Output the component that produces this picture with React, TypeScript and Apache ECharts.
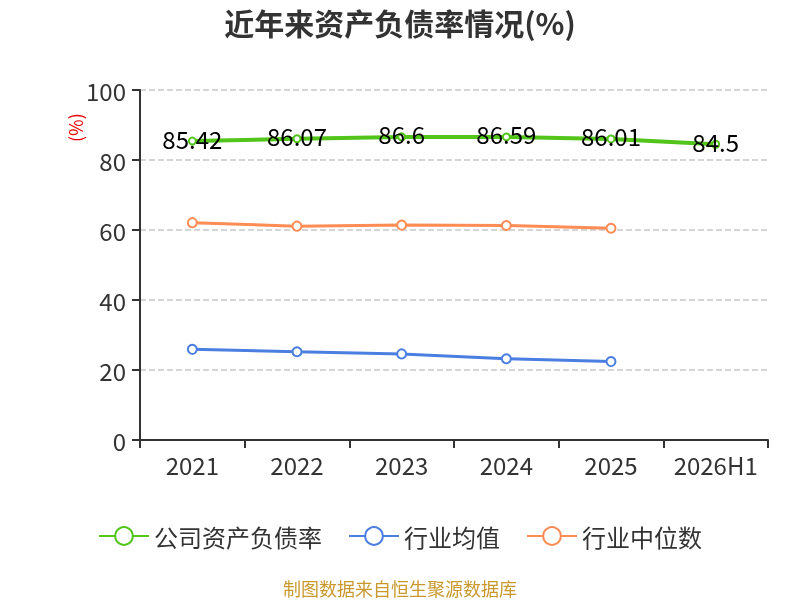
import React, { useEffect, useRef } from "react";
import * as echarts from "echarts";

const categories = ["2021", "2022", "2023", "2024", "2025", "2026H1"];
const companyRatio = [85.42, 86.07, 86.6, 86.59, 86.01, 84.5];
const industryMean = [25.9, 25.2, 24.6, 23.2, 22.4];
const industryMedian = [62.1, 61.1, 61.4, 61.3, 60.5];
const seriesNames = ["公司资产负债率", "行业均值", "行业中位数"];

const FONT = "'Noto Sans CJK SC', 'Noto Sans', sans-serif";

export default function App() {
  const ref = useRef<HTMLDivElement>(null);
  useEffect(() => {
    const chart = echarts.init(ref.current!, null, { renderer: "svg" });
    chart.setOption({
      animation: false,
      textStyle: { fontFamily: FONT },
      title: {
        text: "近年来资产负债率情况(%)",
        left: "center",
        top: 2,
        textStyle: { fontSize: 30, fontWeight: "bold", color: "#333", fontFamily: FONT },
      },
      legend: {
        top: 519,
        left: "center",
        itemWidth: 50,
        itemHeight: 22,
        itemGap: 26,
        textStyle: { fontSize: 24, color: "#333", fontFamily: FONT },
        data: seriesNames,
      },
      graphic: [
        {
          type: "text",
          x: 66,
          y: 142,
          rotation: Math.PI / 2,
          style: { text: "(%)", fill: "#e00", fontSize: 18, fontFamily: FONT },
        },
        {
          type: "text",
          left: "center",
          top: 579,
          style: { text: "制图数据来自恒生聚源数据库", fill: "#c9992e", fontSize: 18, fontFamily: FONT },
        },
      ],
      grid: { left: 140, right: 32, top: 90, bottom: 160, containLabel: false },
      xAxis: {
        type: "category",
        data: categories,
        boundaryGap: true,
        axisLine: { lineStyle: { color: "#333", width: 2 } },
        axisTick: { show: true, interval: 0, length: 8, lineStyle: { color: "#333", width: 2 } },
        axisLabel: { interval: 0, fontSize: 24, color: "#333", margin: 12, fontFamily: FONT },
      },
      yAxis: {
        type: "value",
        min: 0,
        max: 100,
        interval: 20,
        axisLine: { show: true, lineStyle: { color: "#333", width: 2 } },
        axisTick: { show: true, length: 8, lineStyle: { color: "#333", width: 2 } },
        axisLabel: { fontSize: 24, color: "#333", margin: 14, fontFamily: FONT },
        splitLine: { show: true, lineStyle: { color: "#c8c8c8", type: "dashed", width: 1.5 } },
      },
      series: [
        {
          name: seriesNames[0],
          type: "line",
          data: companyRatio,
          symbol: "emptyCircle",
          symbolSize: 7,
          itemStyle: { color: "#52c41a" },
          lineStyle: { width: 4, color: "#52c41a" },
          label: {
            show: true,
            position: "inside",
            offset: [0, -3],
            fontSize: 24,
            color: "#000",
            fontFamily: FONT,
          },
          z: 3,
        },
        {
          name: seriesNames[1],
          type: "line",
          data: industryMean,
          symbol: "emptyCircle",
          symbolSize: 9,
          itemStyle: { color: "#4a7ee0" },
          lineStyle: { width: 3, color: "#4a7ee0" },
        },
        {
          name: seriesNames[2],
          type: "line",
          data: industryMedian,
          symbol: "emptyCircle",
          symbolSize: 9,
          itemStyle: { color: "#ff8c55" },
          lineStyle: { width: 3, color: "#ff8c55" },
        },
      ],
    });
    return () => chart.dispose();
  }, []);
  return (
    <div
      ref={ref}
      style={{ position: "fixed", left: 0, top: 0, width: 800, height: 600 }}
    />
  );
}
